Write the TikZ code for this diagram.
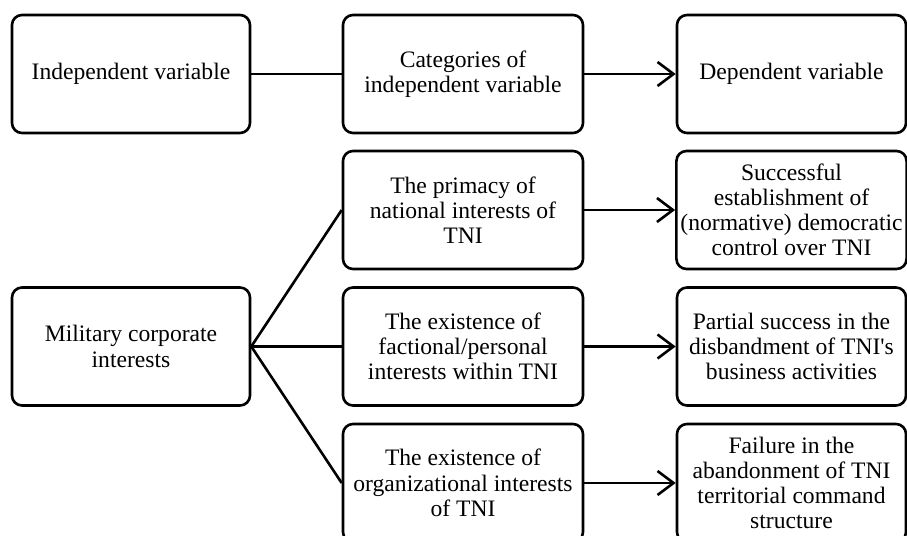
\documentclass[tikz,border=0pt]{standalone}
\usepackage{fontspec}
\newfontfamily\plainserif{Liberation Serif}
\usetikzlibrary{arrows.meta}
\begin{document}
\begin{tikzpicture}[x=0.5pt,y=-0.5pt,
  box/.style={draw=black, line width=1.3pt, rounded corners=5pt, fill=white,
    inner sep=2pt, align=center, minimum height=59pt,
    font=\plainserif\fontsize{11.8pt}{12.6pt}\selectfont},
  colA/.style={box, minimum width=119pt},
  colB/.style={box, minimum width=120pt},
  colC/.style={box, minimum width=114.5pt},
  link/.style={line width=1.3pt},
  arr/.style={link, -{Straight Barb[length=8pt,width=12pt,line width=1.3pt]}}]
\clip (0,0) rectangle (907,536);
\fill[white] (0,0) rectangle (907,536);
% header row
\node[colA] (iv) at (131,74) {Independent variable};
\node[colB] (cat) at (463,74) {Categories of\\independent variable};
\node[colC] (dv) at (791.5,74) {Dependent variable};
% lower part
\node[colA] (mil) at (131,346.5) {Military corporate\\interests};
\node[colB] (c1) at (463,210) {The primacy of\\national interests of\\TNI};
\node[colB] (c2) at (463,346.5) {The existence of\\factional/personal\\interests within TNI};
\node[colB] (c3) at (463,483) {The existence of\\organizational interests\\of TNI};
\node[colC] (d1) at (791.5,210) {Successful\\establishment of\\(normative) democratic\\control over TNI};
\node[colC] (d2) at (791.5,346.5) {Partial success in the\\disbandment of TNI's\\business activities};
\node[colC] (d3) at (791.5,483) {Failure in the\\abandonment of TNI\\territorial command\\structure};
% connectors
\draw[link] (iv.east) -- (cat.west);
\draw[arr] (cat.east) -- (dv.west);
\draw[link] (mil.east) -- (c1.west);
\draw[link] (mil.east) -- (c2.west);
\draw[link] (mil.east) -- (c3.west);
\draw[arr] (c1.east) -- (d1.west);
\draw[arr] (c2.east) -- (d2.west);
\draw[arr] (c3.east) -- (d3.west);
\end{tikzpicture}
\end{document}
